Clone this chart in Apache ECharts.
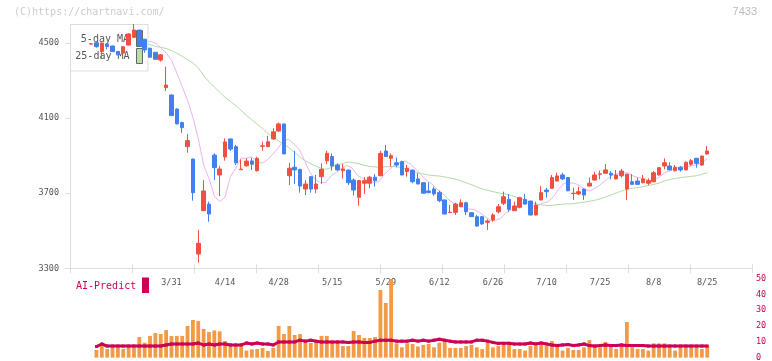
<!DOCTYPE html>
<html><head><meta charset="utf-8">
<script src="https://cdn.jsdelivr.net/npm/echarts@6/dist/echarts.min.js"></script>
<style>html,body{margin:0;padding:0;background:#fff}#c{width:772px;height:361px}</style>
</head><body><div id="c"></div>
<script>
const dates = ['3/7','3/10','3/11','3/12','3/13','3/14','3/17','3/18','3/19','3/21',
'3/24','3/25','3/26','3/27','3/28','3/31','4/1','4/2','4/3','4/4',
'4/7','4/8','4/9','4/10','4/11','4/14','4/15','4/16','4/17','4/18',
'4/21','4/22','4/23','4/24','4/25','4/28','4/30','5/1','5/2','5/7',
'5/8','5/9','5/12','5/13','5/14','5/15','5/16','5/19','5/20','5/21',
'5/22','5/23','5/26','5/27','5/28','5/29','5/30','6/2','6/3','6/4',
'6/5','6/6','6/9','6/10','6/11','6/12','6/13','6/16','6/17','6/18',
'6/19','6/20','6/23','6/24','6/25','6/26','6/27','6/30','7/1','7/2',
'7/3','7/4','7/7','7/8','7/9','7/10','7/11','7/14','7/15','7/16',
'7/17','7/18','7/22','7/23','7/24','7/25','7/28','7/29','7/30','7/31',
'8/1','8/4','8/5','8/6','8/7','8/8','8/12','8/13','8/14','8/15',
'8/18','8/19','8/20','8/21','8/22','8/25'];

const labelDates = ['3/31','4/14','4/28','5/15','5/29','6/12','6/26','7/10','7/25','8/8','8/25'];

const open = [4494,4501,4454,4495,4484,4454,4446,4489,4530,4569,
4520,4472,4450,4409,4262,4223,4148,4076,3948,3882,
3376,3607,3642,3903,3797,3893,3989,3948,3825,3846,
3872,3820,3950,3948,3989,4031,4069,3793,3838,3827,
3722,3788,3722,3788,3873,3895,3850,3820,3823,3770,
3678,3753,3753,3785,3793,3925,3886,3862,3868,3815,
3823,3776,3756,3712,3722,3703,3664,3597,3598,3628,
3649,3596,3575,3575,3545,3557,3601,3646,3667,3607,
3625,3667,3658,3584,3664,3717,3726,3765,3797,3783,
3698,3696,3722,3738,3770,3801,3806,3806,3776,3793,
3722,3761,3765,3756,3753,3761,3797,3845,3845,3820,
3838,3824,3854,3886,3850,3909];

const close = [4496,4480,4500,4481,4454,4437,4480,4548,4569,4484,
4463,4424,4413,4437,4276,4113,4069,4049,3980,3703,
3433,3712,3589,3836,3829,3973,3935,3862,3828,3871,
3854,3886,3952,3974,4027,4069,3909,3833,3824,3738,
3749,3722,3749,3827,3912,3845,3824,3829,3756,3717,
3767,3767,3785,3767,3912,3895,3900,3850,3797,3833,
3761,3749,3700,3703,3696,3660,3589,3599,3642,3649,
3601,3575,3525,3536,3552,3584,3628,3681,3614,3632,
3676,3642,3584,3637,3703,3708,3783,3792,3776,3713,
3700,3708,3690,3753,3797,3803,3824,3797,3797,3818,
3801,3747,3747,3776,3767,3809,3836,3862,3824,3838,
3824,3865,3873,3859,3898,3925];

const low = [4493,4475,4416,4466,4452,4434,4443,4487,4528,4482,
4448,4422,4411,4400,4244,4111,4066,4022,3916,3660,
3330,3605,3548,3770,3685,3873,3925,3850,3824,3841,
3824,3815,3926,3946,3983,4027,3908,3744,3749,3703,
3690,3703,3700,3749,3855,3820,3820,3779,3744,3687,
3633,3696,3726,3735,3791,3893,3841,3838,3795,3788,
3753,3747,3698,3700,3687,3652,3587,3596,3584,3626,
3584,3574,3522,3532,3504,3548,3593,3637,3601,3605,
3620,3640,3582,3582,3662,3676,3724,3763,3770,3711,
3664,3690,3664,3736,3766,3774,3804,3774,3774,3783,
3664,3745,3745,3753,3744,3759,3795,3827,3822,3815,
3815,3822,3845,3836,3845,3907];

const high = [4497,4506,4503,4497,4486,4458,4483,4552,4601,4570,
4522,4474,4452,4440,4374,4225,4152,4081,4015,3884,
3504,3770,3655,3912,3845,3992,3990,3957,3880,3886,
3889,3894,3974,4005,4046,4076,4070,3862,3926,3829,
3770,3790,3797,3859,3926,3912,3859,3855,3825,3779,
3770,3785,3792,3802,3926,3957,3912,3891,3873,3850,
3825,3806,3758,3758,3735,3713,3666,3637,3649,3667,
3655,3598,3584,3577,3561,3593,3642,3708,3696,3655,
3681,3696,3660,3655,3738,3729,3797,3809,3809,3785,
3729,3735,3724,3783,3814,3820,3855,3818,3824,3829,
3803,3801,3783,3797,3779,3818,3838,3886,3865,3850,
3845,3868,3882,3888,3900,3951];

// 25-day MA values for the first positions (earlier history not shown)
const ma25Early = [null,null,null,null,null,null,null,null,null,4495,
4490,4481,4476,4470,4458,4444,4428,4410,4392,4366,
4325,4292,4265,4238];

const aiVolume = [null,4.8,7.3,5.4,6.5,6.5,5.4,6.5,6.5,13.0,
9.4,13.7,15.5,14.9,17.4,13.7,13.7,13.7,20.0,23.8,
23.1,18.1,16.2,17.2,16.6,10.5,7.3,7.3,7.3,4.4,
5.2,5.4,6.1,4.2,6.1,20.0,14.9,20.0,14.3,14.9,
11.1,9.2,11.1,13.7,13.7,10.5,9.9,7.3,7.3,16.8,
14.3,12.4,12.4,13.0,42.7,34.5,49.7,9.0,6.5,9.0,
8.6,7.0,8.0,8.6,6.5,9.4,10.5,6.1,6.1,6.1,
7.3,8.0,6.5,5.4,9.4,6.5,7.3,8.0,8.0,5.4,
5.4,4.4,7.3,7.3,8.0,7.3,10.5,7.3,4.4,6.1,
4.8,4.8,6.5,11.1,7.3,6.5,9.9,7.3,5.4,7.3,
22.5,6.5,5.4,5.4,4.4,9.0,9.0,9.0,6.5,4.4,
6.5,6.5,6.5,6.5,5.4,7.3];

const aiLine = [null,7.0,8.6,7.3,7.3,7.3,7.3,7.3,7.3,7.3,
7.3,7.3,7.3,7.3,8.0,8.6,8.6,8.6,8.6,8.6,
9.2,8.0,8.6,8.0,8.6,8.6,8.0,8.0,8.0,9.2,
8.6,9.2,8.6,8.6,8.0,9.9,9.9,9.9,9.9,11.0,
10.4,11.0,10.4,9.9,9.9,9.9,9.9,9.9,9.6,9.9,
9.9,9.6,9.6,10.4,11.0,11.0,11.0,10.4,10.4,10.4,
11.0,10.4,11.0,10.4,11.0,11.6,11.0,10.4,9.9,9.9,
9.9,9.9,11.0,11.0,10.4,9.6,9.0,9.0,9.0,8.6,
8.6,8.6,9.2,8.6,9.2,8.6,8.0,7.6,8.0,8.3,
7.6,8.0,8.6,7.6,7.3,7.6,8.0,7.6,7.6,8.0,
7.6,7.6,7.6,7.6,7.3,7.3,7.3,7.3,7.3,7.3,
7.3,7.3,7.3,7.3,7.3,7.3];

const priceTicks = [3300, 3700, 4100, 4500];

function movingAverage(vals, n) {
  const out = [];
  for (let i = 0; i < vals.length; i++) {
    if (i < n - 1) { out.push(null); continue; }
    let s = 0;
    for (let k = i - n + 1; k <= i; k++) s += vals[k];
    out.push(+(s / n).toFixed(1));
  }
  return out;
}
const ma5 = movingAverage(close, 5);
const ma25 = movingAverage(close, 25).map((v, i) => i < ma25Early.length ? ma25Early[i] : v);
const candles = dates.map((d, i) => [open[i], close[i], low[i], high[i]]);

const MONO = '"DejaVu Sans Mono", "Liberation Mono", monospace';
const UP = '#ef5040', DOWN = '#4280ee', CRIMSON = '#cc0055';
const AXIS = '#dddddd';

const chart = echarts.init(document.getElementById('c'), null, {renderer: 'canvas'});
const option = {
  animation: false,
  backgroundColor: '#ffffff',
  grid: [
    {left: 70, right: 20, top: 24.2, bottom: 92.7, containLabel: false, outerBoundsMode: 'none'},
    {left: 88.42, width: 621.5, top: 24.2, bottom: 92.7, containLabel: false, outerBoundsMode: 'none'},
    {left: 88.42, width: 621.5, top: 278.5, bottom: 3.4, containLabel: false, outerBoundsMode: 'none'},
    {left: 70, right: 20, top: 278.5, bottom: 3.4, containLabel: false, outerBoundsMode: 'none'},
    {left: 97.85, width: 609.5, top: 24.2, bottom: 92.7, containLabel: false, outerBoundsMode: 'none'}
  ],
  xAxis: [
    {type: 'value', gridIndex: 0, min: 0, max: 11, interval: 1, position: 'bottom',
     axisLine: {show: true, lineStyle: {color: AXIS, width: 1}},
     axisTick: {show: true, length: 5, lineStyle: {color: AXIS}},
     axisLabel: {show: false}, splitLine: {show: false}},
    {type: 'value', gridIndex: 0, min: 0, max: 11, interval: 1, position: 'bottom',
     axisLine: {show: false},
     axisTick: {show: true, inside: true, length: 4, lineStyle: {color: AXIS}},
     axisLabel: {show: false}, splitLine: {show: false}},
    {type: 'category', gridIndex: 1, data: dates, boundaryGap: true, position: 'bottom',
     axisLine: {show: false}, axisTick: {show: false}, splitLine: {show: false},
     axisLabel: {interval: (i, v) => labelDates.indexOf(v) >= 0, margin: 10, color: '#555',
       fontFamily: MONO, fontSize: 8.5, hideOverlap: false}},
    {type: 'category', gridIndex: 2, data: dates, boundaryGap: true, show: false},
    {type: 'value', gridIndex: 3, min: 0, max: 1, show: false},
    {type: 'category', gridIndex: 4, data: dates, boundaryGap: false, show: false}
  ],
  yAxis: [
    {type: 'value', gridIndex: 0, min: 3300, max: 4600,
     axisLine: {show: true, lineStyle: {color: AXIS, width: 1}},
     axisTick: {show: true, length: 5, customValues: priceTicks, lineStyle: {color: AXIS}},
     axisLabel: {customValues: priceTicks, formatter: (v) => String(v), margin: 11, color: '#555',
       fontFamily: MONO, fontSize: 8.5},
     splitLine: {show: false}},
    {type: 'value', gridIndex: 1, min: 3300, max: 4600, show: false},
    {type: 'value', gridIndex: 2, min: 0, max: 50, show: false},
    {type: 'value', gridIndex: 3, min: 0, max: 50, interval: 10, position: 'right',
     axisLine: {show: false}, axisTick: {show: false}, splitLine: {show: false},
     axisLabel: {margin: 4, color: CRIMSON, fontFamily: MONO, fontSize: 8.5, formatter: (v) => String(v)}},
    {type: 'value', gridIndex: 4, min: 3300, max: 4600, show: false}
  ],
  graphic: [
    {type: 'text', x: 14, y: 12.5, z: 1,
     style: {text: '(C)https://chartnavi.com/', fill: '#cccccc', fontFamily: MONO, fontSize: 10,
       textAlign: 'left', align: 'left', textVerticalAlign: 'middle', verticalAlign: 'middle'}},
    {type: 'text', x: 757, y: 12, z: 1,
     style: {text: '7433', fill: '#bbbbbb', fontFamily: '"Liberation Sans", Arial, sans-serif', fontSize: 11,
       textAlign: 'right', align: 'right', textVerticalAlign: 'middle', verticalAlign: 'middle'}},
    {type: 'rect', z: 3, shape: {x: 70.5, y: 24.5, width: 77.5, height: 46.5},
     style: {fill: '#ffffff', stroke: '#dddddd', lineWidth: 1}},
    {type: 'text', x: 129, y: 39.5, z: 3,
     style: {text: '5-day MA', fill: '#555555', fontFamily: MONO, fontSize: 10,
       textAlign: 'right', align: 'right', textVerticalAlign: 'middle', verticalAlign: 'middle'}},
    {type: 'text', x: 129.5, y: 56.5, z: 3,
     style: {text: '25-day MA', fill: '#555555', fontFamily: MONO, fontSize: 10,
       textAlign: 'right', align: 'right', textVerticalAlign: 'middle', verticalAlign: 'middle'}},
    {type: 'rect', z: 3, shape: {x: 136.5, y: 30.5, width: 6, height: 16},
     style: {fill: '#ecb8f0', stroke: '#666666', lineWidth: 1}},
    {type: 'rect', z: 3, shape: {x: 136.5, y: 48.5, width: 6, height: 15},
     style: {fill: '#b8dcaa', stroke: '#666666', lineWidth: 1}},
    {type: 'text', x: 76, y: 286, z: 1,
     style: {text: 'AI-Predict', fill: CRIMSON, fontFamily: MONO, fontSize: 10,
       textAlign: 'left', align: 'left', textVerticalAlign: 'middle', verticalAlign: 'middle'}},
    {type: 'rect', z: 1, shape: {x: 142, y: 277.5, width: 7, height: 15.5},
     style: {fill: CRIMSON}}
  ],
  series: [
    {type: 'line', name: '25-day MA', xAxisIndex: 5, yAxisIndex: 4, data: ma25, symbol: 'none',
     showSymbol: false, lineStyle: {width: 1, color: '#b5dba5'}, z: 2, silent: true},
    {type: 'line', name: '5-day MA', xAxisIndex: 5, yAxisIndex: 4, data: ma5, symbol: 'none',
     showSymbol: false, lineStyle: {width: 1, color: '#e9b5ee'}, z: 2, silent: true},
    {type: 'candlestick', xAxisIndex: 2, yAxisIndex: 1, data: candles, barWidth: 4, z: 4,
     itemStyle: {color: UP, color0: DOWN, borderColor: UP, borderColor0: DOWN, borderWidth: 1}},
    {type: 'bar', xAxisIndex: 3, yAxisIndex: 2, data: aiVolume, barWidth: 3.8, z: 2,
     itemStyle: {color: '#f29a45'}},
    {type: 'line', xAxisIndex: 3, yAxisIndex: 2, data: aiLine, symbol: 'rect', symbolSize: 3,
     showSymbol: true, showAllSymbol: true, z: 3,
     itemStyle: {color: CRIMSON}, lineStyle: {width: 3, color: CRIMSON}}
  ]
};
chart.setOption(option);
</script>
</body></html>
